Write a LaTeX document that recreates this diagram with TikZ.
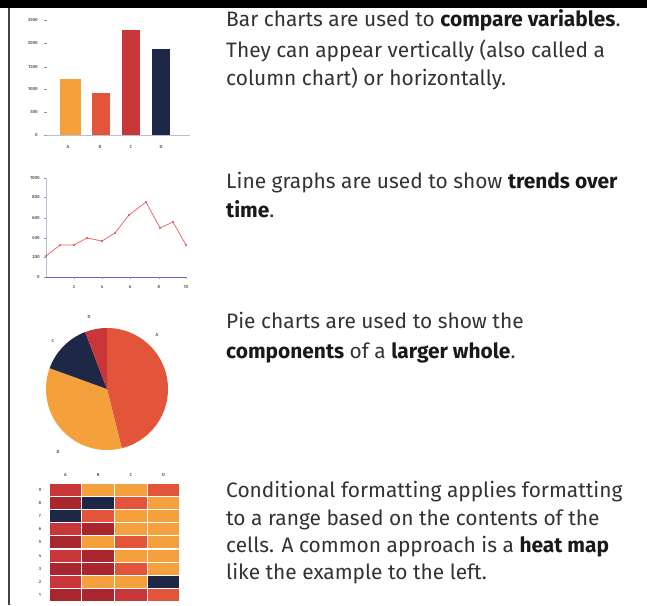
\documentclass[tikz,border=0pt]{standalone}
\usepackage{fontspec}
\setmainfont{Fira Sans}
\definecolor{cOrange}{HTML}{F4A03C}
\definecolor{cRedOr}{HTML}{E2553A}
\definecolor{cRed}{HTML}{C8363A}
\definecolor{cDkRed}{HTML}{A9262E}
\definecolor{cNavy}{HTML}{1E2846}
\definecolor{cLine}{HTML}{EC6A6E}
\definecolor{cAxis}{HTML}{B8C0D8}
\definecolor{cText}{HTML}{333333}
\tikzset{
  ticklbl/.style={font=\fontsize{4.4}{5}\selectfont\bfseries, text=black!60, inner sep=0pt},
  body/.style={font=\fontsize{20.9}{28}\selectfont, text=cText, inner sep=0pt, anchor=base west},
}
\newcommand{\hl}[1]{{\bfseries\color{black!90}#1}}
\begin{document}
\begin{tikzpicture}[x=1pt,y=-1pt]
\useasboundingbox (0,0) rectangle (647,605);
\fill[white] (0,0) rectangle (647,605);
% frame
\fill[black] (0,0) rectangle (647,8);
\draw[line width=2pt, black!75] (9,8) -- (9,605);

% ---------- bar chart ----------
\draw[cAxis, line width=0.4pt] (45,135) -- (190,135);
\foreach \yy/\lb in {20/2500,43/2000,67/1500,89/1000,112/500,135/0}{
  \node[ticklbl, anchor=east] at (38,\yy) {\lb};
  \draw[black!40, line width=0.4pt] (44,\yy) -- (46.5,\yy);
}
\fill[cOrange] (60,135) rectangle (81,79);
\fill[cRedOr]  (92,135) rectangle (110,93);
\fill[cRed]    (122,135) rectangle (140,30);
\fill[cNavy]   (152,135) rectangle (170,49);
\foreach \xx/\lb in {68/A,100/B,131/C,161/D}
  \node[ticklbl] at (\xx,147) {\lb};

% ---------- line graph ----------
\draw[cAxis, line width=0.4pt] (46,178) -- (46,277);
\draw[black!35!blue!60, line width=0.5pt] (46,277) -- (187,277);
\foreach \yy/\lb in {178/1000,197/800,218/600,238/400,257/200,277/0}{
  \node[ticklbl, anchor=east] at (40,\yy) {\lb};
  \draw[black!40, line width=0.4pt] (44,\yy) -- (46,\yy);
}
\foreach \xx/\lb in {74/2,102/4,130/6,159/8,186/10}{
  \node[ticklbl] at (\xx,287) {\lb};
  \draw[black!40, line width=0.4pt] (\xx,277) -- (\xx,279);
}
\draw[cLine, line width=0.8pt, line join=round]
  (46,256) -- (60,245) -- (74,245) -- (87,238) -- (102,241) -- (115,233)
  -- (129,215) -- (146,202) -- (160,228) -- (173,222) -- (186,245);
\foreach \p in {(46,256),(60,245),(74,245),(87,238),(102,241),(115,233),(129,215),(146,202),(160,228),(173,222),(186,245)}
  \fill[cLine!85!black] \p circle (1.1);

% ---------- pie chart ----------
\begin{scope}[shift={(107,389)}, yscale=-1]
  \fill[cRedOr]  (0,0) -- (90:61)  arc[start angle=90,  end angle=-76, radius=61] -- cycle;
  \fill[cOrange] (0,0) -- (-76:61) arc[start angle=-76, end angle=-200, radius=61] -- cycle;
  \fill[cNavy]   (0,0) -- (160:61) arc[start angle=160, end angle=111, radius=61] -- cycle;
  \fill[cRed]    (0,0) -- (111:61) arc[start angle=111, end angle=90,  radius=61] -- cycle;
\end{scope}
\node[ticklbl] at (89,317) {D};
\node[ticklbl] at (157,335) {A};
\node[ticklbl] at (53,341) {C};
\node[ticklbl] at (58,452) {B};

% ---------- heat map ----------
\def\cw{32.75}
\def\ch{13.2}
\foreach \lb [count=\i from 0] in {A,B,C,D}
  \node[ticklbl] at ({49+\cw*(\i+0.5)},475) {\lb};
\foreach \row [count=\r from 0] in {
  {cRed,cOrange,cOrange,cRedOr},
  {cDkRed,cNavy,cRedOr,cOrange},
  {cNavy,cRedOr,cOrange,cOrange},
  {cRed,cDkRed,cOrange,cOrange},
  {cDkRed,cOrange,cRedOr,cOrange},
  {cRed,cDkRed,cOrange,cOrange},
  {cDkRed,cDkRed,cRedOr,cOrange},
  {cRed,cOrange,cOrange,cNavy},
  {cDkRed,cDkRed,cRed,cRedOr}}{
  \pgfmathtruncatemacro{\rl}{9-\r}
  \node[ticklbl] at (40,{483+\ch*(\r+0.5)}) {\rl};
  \foreach \cc [count=\c from 0] in \row
    \fill[\cc] ({49+\cw*\c+0.6},{483+\ch*\r+0.6}) rectangle ({49+\cw*(\c+1)-0.6},{483+\ch*(\r+1)-0.6});
}

% ---------- descriptions ----------
\node[body] (t1a) at (226,27) {Bar charts are used to \hl{compare variables}.};
\node[body] (t1b) at (226,57) {They can appear vertically (also called a};
\node[body] (t1c) at (226,85) {column chart) or horizontally.};

\node[body] (t2a) at (226,188) {Line graphs are used to show \hl{trends over}};
\node[body] (t2b) at (226,217) {\hl{time}.};

\node[body] (t3a) at (226,328) {Pie charts are used to show the};
\node[body] (t3b) at (226,358) {\hl{components} of a \hl{larger whole}.};

\node[body] (t4a) at (226,497) {Conditional formatting applies formatting};
\node[body] (t4b) at (226,525) {to a range based on the contents of the};
\node[body] (t4c) at (226,552) {cells. A common approach is a \hl{heat map}};
\node[body] (t4d) at (226,579) {like the example to the left.};
\end{tikzpicture}
\end{document}
